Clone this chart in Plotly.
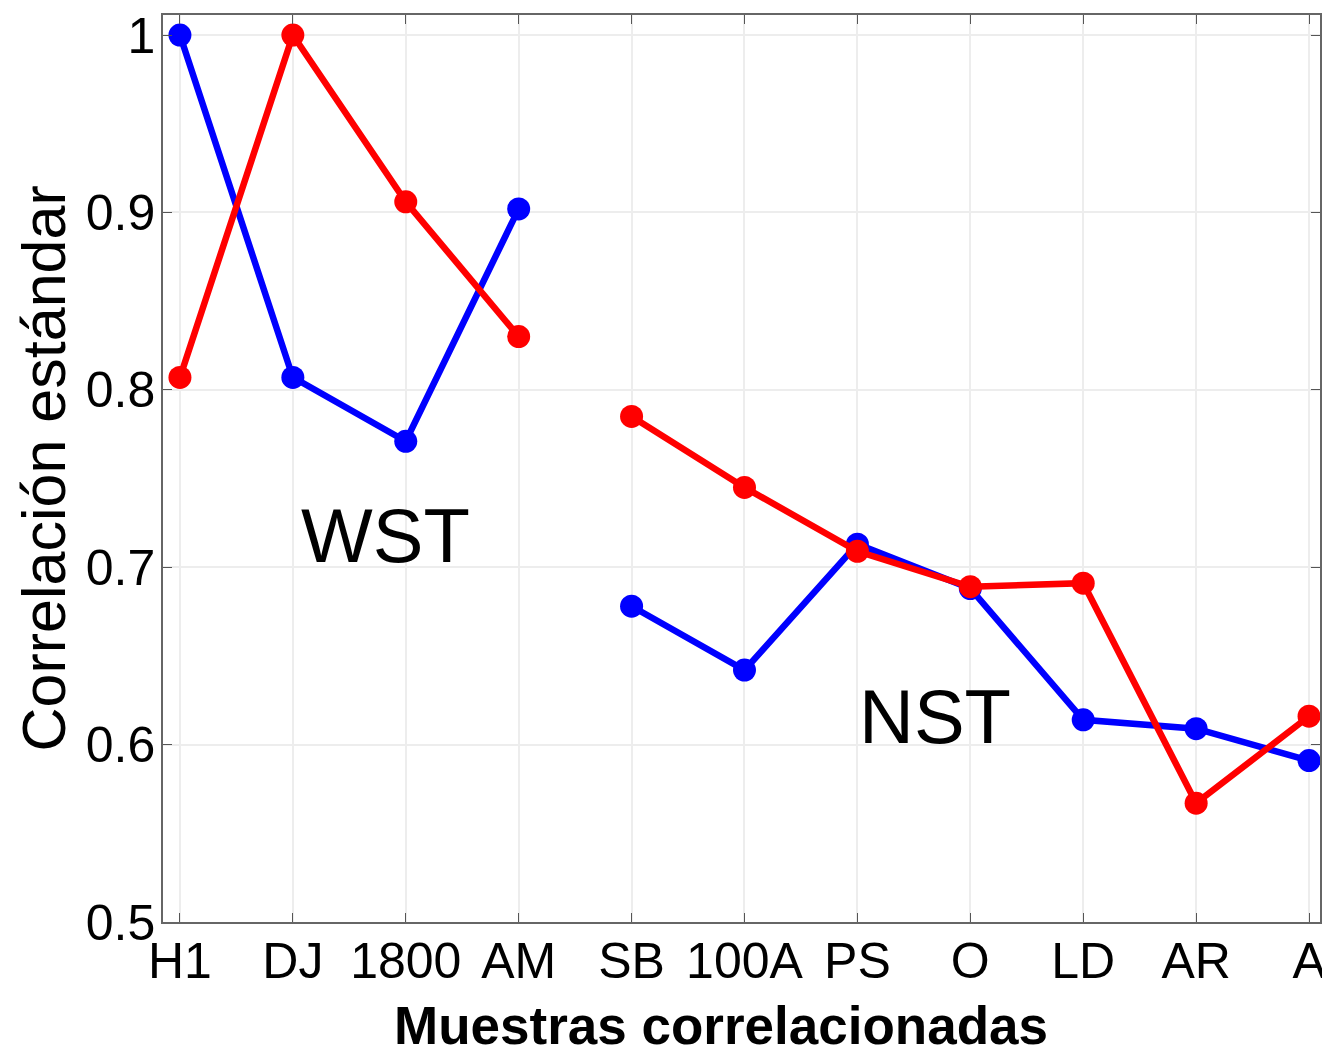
import plotly.graph_objects as go

categories = ["H1", "DJ", "1800", "AM", "SB", "100A", "PS", "O", "LD", "AR", "A"]
x_pos = [1, 2, 3, 4, 5, 6, 7, 8, 9, 10, 11]
blue_wst = [1.000, 0.807, 0.771, 0.902]
blue_nst = [0.678, 0.642, 0.713, 0.688, 0.614, 0.609, 0.591]
red_wst = [0.807, 1.000, 0.906, 0.830]
red_nst = [0.785, 0.745, 0.709, 0.689, 0.691, 0.567, 0.616]
y_ticks = [0.5, 0.6, 0.7, 0.8, 0.9, 1.0]
y_tick_text = ["0.5", "0.6", "0.7", "0.8", "0.9", "1"]

blue = blue_wst + [None] + blue_nst
red = red_wst + [None] + red_nst
x_all = x_pos[:4] + [4.5] + x_pos[4:]

FONT = "Liberation Sans, Arial"

fig = go.Figure()
fig.add_trace(go.Scatter(x=x_all, y=blue, mode="lines+markers",
                         line=dict(color="#0000ff", width=6.5),
                         marker=dict(color="#0000ff", size=23),
                         connectgaps=False, showlegend=False))
fig.add_trace(go.Scatter(x=x_all, y=red, mode="lines+markers",
                         line=dict(color="#ff0000", width=6.5),
                         marker=dict(color="#ff0000", size=23),
                         connectgaps=False, showlegend=False))

fig.add_annotation(x=2.82, y=0.718, text="WST", showarrow=False,
                   font=dict(family=FONT, size=76, color="black"))
fig.add_annotation(x=7.69, y=0.6156, text="NST", showarrow=False,
                   font=dict(family=FONT, size=76, color="black"))

# axis titles
fig.add_annotation(xref="paper", yref="paper", x=0.4823, y=0, yshift=-103,
                   xanchor="center", yanchor="middle", showarrow=False,
                   text="<b>Muestras correlacionadas</b>",
                   font=dict(family=FONT, size=53, color="black"))
fig.add_annotation(xref="paper", yref="paper", x=0, y=0.5, xshift=-120,
                   xanchor="center", yanchor="middle", showarrow=False,
                   textangle=-90, text="Correlación estándar",
                   font=dict(family=FONT, size=61, color="black"))

fig.update_layout(
    width=1330, height=1054,
    margin=dict(l=155, r=18, t=7, b=140),
    paper_bgcolor="white", plot_bgcolor="white",
    font=dict(family=FONT, color="black"),
)
fig.update_xaxes(
    range=[0.85, 11.097], tickvals=x_pos, ticktext=categories,
    tickfont=dict(size=50), ticks="inside", ticklen=9, tickcolor="#555",
    ticklabelstandoff=-6, automargin=False, ticklabeloverflow="allow",
    showline=True, linecolor="#666", linewidth=1.5, mirror="ticks",
    showgrid=True, gridcolor="#ededed", gridwidth=1.5, zeroline=False,
)
fig.update_yaxes(
    range=[0.5, 1.0113], tickvals=y_ticks, ticktext=y_tick_text,
    tickfont=dict(size=50), ticks="inside", ticklen=9, tickcolor="#555",
    ticklabelstandoff=-4, automargin=False, ticklabeloverflow="allow",
    showline=True, linecolor="#666", linewidth=1.5, mirror="ticks",
    showgrid=True, gridcolor="#ededed", gridwidth=1.5, zeroline=False,
)

fig.write_html("out.html")
